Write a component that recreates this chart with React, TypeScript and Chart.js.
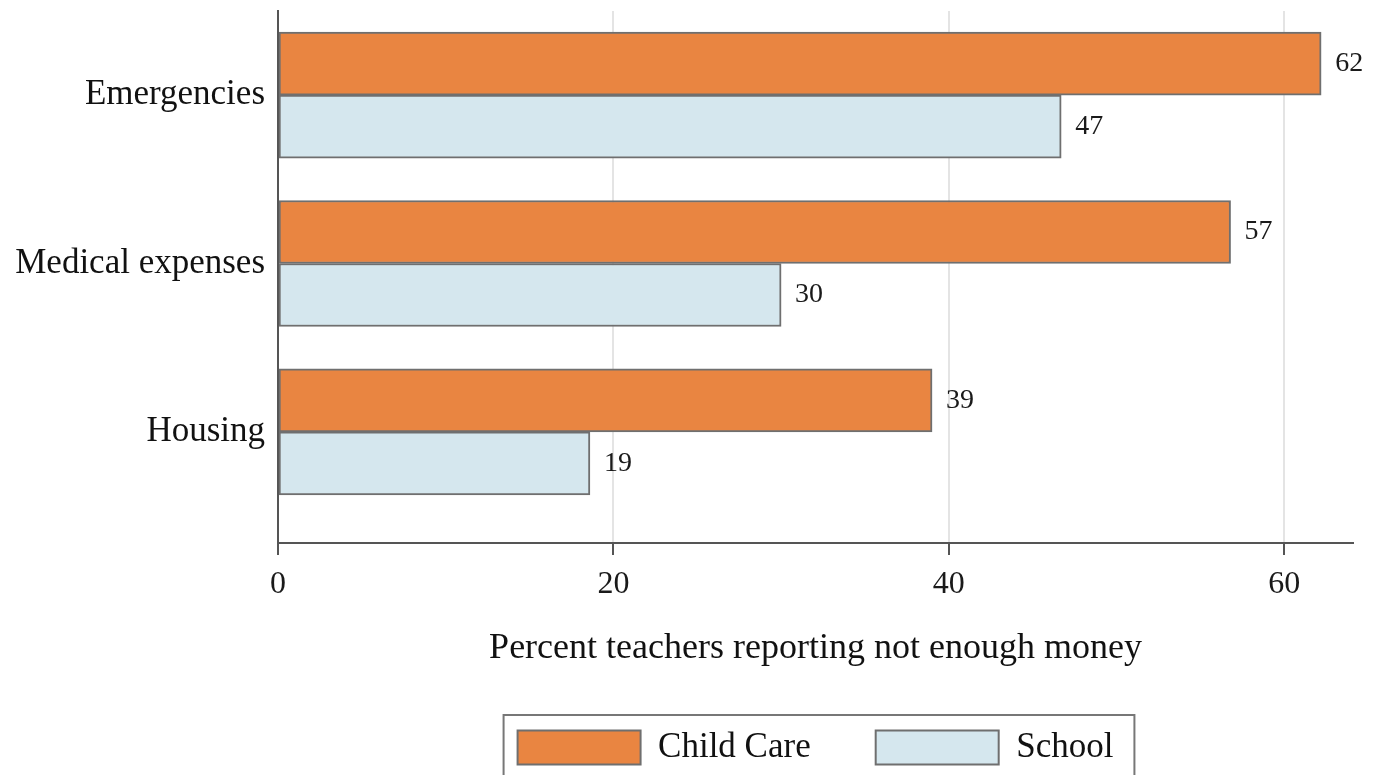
import React, { useEffect, useRef } from "react";
import { Chart, registerables } from "chart.js";

Chart.register(...registerables);

const categories = ["Emergencies", "Medical expenses", "Housing"];
const childCare = [62.2, 56.8, 39.0];
const school = [46.7, 30.0, 18.6];
const seriesNames = ["Child Care", "School"];
const xTicks = [0, 20, 40, 60];

const FONT = "'Liberation Serif', 'Times New Roman', serif";

const valueLabels = {
  id: "valueLabels",
  afterDatasetsDraw(chart: any) {
    const ctx = chart.ctx;
    ctx.save();
    ctx.font = `28px ${FONT}`;
    ctx.fillStyle = "#1a1a1a";
    ctx.textAlign = "left";
    ctx.textBaseline = "middle";
    chart.data.datasets.forEach((ds: any, i: number) => {
      const meta = chart.getDatasetMeta(i);
      meta.data.forEach((bar: any, j: number) => {
        ctx.fillText(String(Math.round(ds.data[j].x)), bar.x + 14, bar.y);
      });
    });
    ctx.restore();
  },
};

const legendFrame = {
  id: "legendFrame",
  afterDraw(chart: any) {
    const lg = chart.legend;
    if (!lg || !lg.legendHitBoxes || !lg.legendHitBoxes.length) return;
    const boxes = lg.legendHitBoxes;
    const first = boxes[0];
    const last = boxes[boxes.length - 1];
    const ctx = chart.ctx;
    ctx.save();
    ctx.strokeStyle = "#777";
    ctx.lineWidth = 2;
    const left = first.left - 14;
    const right = last.left + last.width + 21;
    const top = first.top - 15;
    ctx.strokeRect(left, top, right - left, chart.height + 20 - top);
    ctx.restore();
  },
};

export default function App() {
  const ref = useRef<HTMLCanvasElement>(null);
  useEffect(() => {
    if (!ref.current) return;
    const chart = new Chart(ref.current, {
      type: "bar",
      data: {
        datasets: [
          {
            label: seriesNames[0],
            data: childCare.map((v, i) => ({ x: v, y: i })),
            backgroundColor: "#E98541",
            borderColor: "#6f6f6f",
            borderWidth: 2,
            borderSkipped: false,
            barThickness: 63,
          },
          {
            label: seriesNames[1],
            data: school.map((v, i) => ({ x: v, y: i })),
            backgroundColor: "#D5E7EE",
            borderColor: "#6f6f6f",
            borderWidth: 2,
            borderSkipped: false,
            barThickness: 63,
          },
        ],
      },
      options: {
        indexAxis: "y",
        responsive: false,
        animation: false,
        layout: { padding: { top: 11, right: 29, left: 0, bottom: 0 } },
        plugins: {
          tooltip: { enabled: false },
          legend: {
            position: "bottom",
            fullSize: false,
            labels: {
              boxWidth: 123,
              boxHeight: 34,
              padding: 65,
              color: "#111",
              font: { family: FONT, size: 35 },
            },
          },
        },
        scales: {
          x: {
            type: "linear",
            min: 0,
            max: 64.1,
            afterBuildTicks: (s: any) => {
              s.ticks = xTicks.map((v) => ({ value: v }));
            },
            afterFit: (s: any) => {
              s.height = 122;
            },
            grid: {
              color: "#e4e4e4",
              lineWidth: 2,
              tickColor: "#555",
              tickWidth: 2,
              tickLength: 12,
            },
            border: { color: "#555", width: 2 },
            ticks: {
              padding: 10,
              color: "#1a1a1a",
              font: { family: FONT, size: 32 },
            },
            title: {
              display: true,
              text: "Percent teachers reporting not enough money",
              color: "#111",
              font: { family: FONT, size: 36 },
              padding: { top: 0, bottom: -5 },
            },
          },
          y: {
            type: "linear",
            reverse: true,
            offset: false,
            min: -0.5,
            max: 2.66,
            afterBuildTicks: (s: any) => {
              s.ticks = categories.map((_, i) => ({ value: i }));
            },
            afterFit: (s: any) => {
              s.width = 278;
              s.paddingTop = 0;
              s.paddingBottom = 0;
            },
            grid: { display: false, drawTicks: false },
            border: { color: "#555", width: 2 },
            ticks: {
              padding: 13,
              color: "#111",
              font: { family: FONT, size: 35 },
              callback: (v: any) => categories[v as number] ?? "",
            },
          },
        },
      },
      plugins: [valueLabels, legendFrame],
    } as any);
    return () => chart.destroy();
  }, []);
  return (
    <div style={{ position: "fixed", left: 0, top: 0, width: 1382, height: 775, background: "#fff" }}>
      <canvas ref={ref} width={1382} height={775} style={{ display: "block" }} />
    </div>
  );
}
